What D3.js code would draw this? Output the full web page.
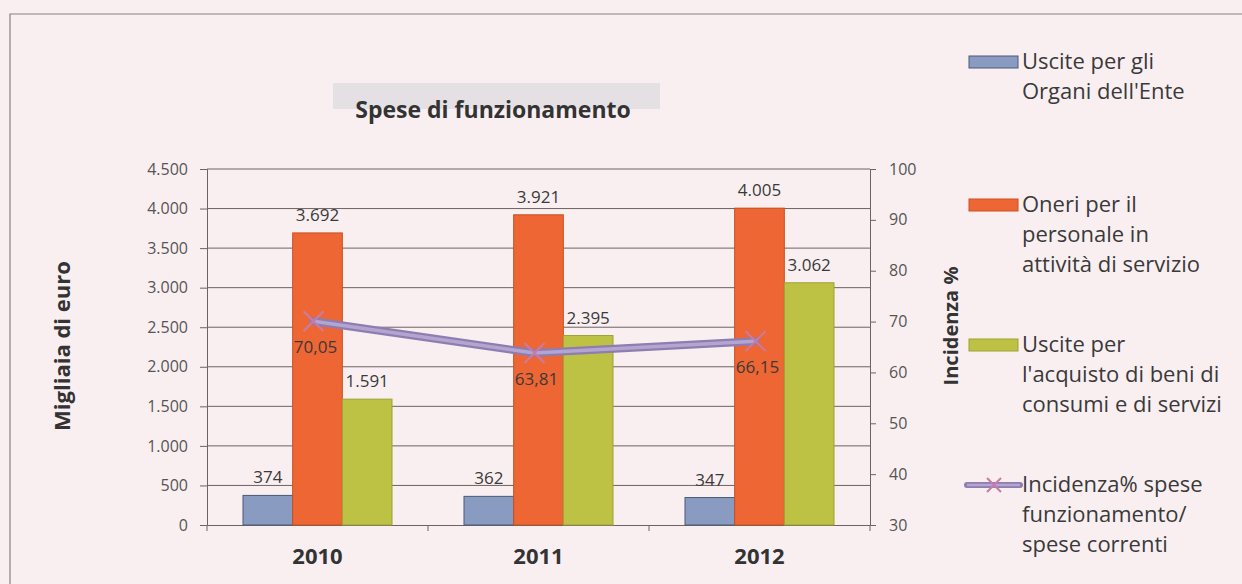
<!DOCTYPE html>
<html>
<head>
<meta charset="utf-8">
<script src="https://cdn.jsdelivr.net/npm/d3@7"></script>
<style>
  body { margin: 0; background: #f9eff1; }
  svg { display: block; font-family: "Open Sans", sans-serif; }
</style>
</head>
<body>
<svg id="chart" width="1242" height="584"></svg>
<script>
// --- data ---
const years = ["2010", "2011", "2012"];
const organi = [374, 362, 347];
const personale = [3692, 3921, 4005];
const beni = [1591, 2395, 3062];
const incidenza = [70.05, 63.81, 66.15];
const leftTicks = [0, 500, 1000, 1500, 2000, 2500, 3000, 3500, 4000, 4500];
const rightTicks = [30, 40, 50, 60, 70, 80, 90, 100];
const legendLines = [
  ["Uscite per gli", "Organi dell'Ente"],
  ["Oneri per il", "personale in", "attività di servizio"],
  ["Uscite per", "l'acquisto di beni di", "consumi e di servizi"],
  ["Incidenza% spese", "funzionamento/", "spese correnti"]
];

const colors = ["#8a9bc2", "#ee6634", "#bec244"];
const strokes = ["#4a5978", "#c9511f", "#9ea235"];
const axisCol = "#6e6262";
const itFmt = v => d3.format(",")(v).replace(/,/g, ".");
const pctFmt = v => d3.format(".2f")(v).replace(".", ",");

const svg = d3.select("#chart");
const plot = { left: 207, right: 870, top: 169, bottom: 525 };

// frame
svg.append("path").attr("d", `M10,584 V14 H1242`).attr("fill", "none").attr("stroke", "#8a7f80").attr("stroke-width", 1.2);

// title (with the grey scan box behind)
svg.append("rect").attr("x", 333).attr("y", 83).attr("width", 327).attr("height", 26).attr("fill", "#e4e0e4");
svg.append("text").attr("x", 493).attr("y", 118).attr("text-anchor", "middle")
  .attr("font-size", 23).attr("font-weight", "bold").attr("fill", "#333").text("Spese di funzionamento");

const x0 = d3.scaleBand().domain(years).range([plot.left, plot.right]);
const groupW = 149;
const x1 = d3.scaleBand().domain([0, 1, 2]).range([0, groupW]);
const yL = d3.scaleLinear().domain([0, 4500]).range([plot.bottom, plot.top]);
const yR = d3.scaleLinear().domain([30, 100]).range([plot.bottom, plot.top]);

// grid
svg.append("g").selectAll("line").data(leftTicks.slice(1)).join("line")
  .attr("x1", plot.left).attr("x2", plot.right)
  .attr("y1", d => yL(d)).attr("y2", d => yL(d))
  .attr("stroke", axisCol).attr("stroke-width", 1);

// left axis
const axL = svg.append("g").attr("transform", `translate(${plot.left},0)`)
  .call(d3.axisLeft(yL).tickValues(leftTicks).tickFormat(itFmt).tickSize(7).tickPadding(12));
axL.select(".domain").attr("stroke", axisCol);
axL.selectAll(".tick line").attr("stroke", axisCol);
axL.selectAll("text").attr("font-size", 16).attr("fill", "#555").attr("font-family", "Open Sans, sans-serif");

// right axis
const axR = svg.append("g").attr("transform", `translate(${plot.right},0)`)
  .call(d3.axisRight(yR).tickValues(rightTicks).tickSize(6).tickPadding(13));
axR.select(".domain").attr("stroke", axisCol);
axR.selectAll(".tick line").attr("stroke", axisCol);
axR.selectAll("text").attr("font-size", 16).attr("fill", "#555").attr("font-family", "Open Sans, sans-serif");

// bottom axis
const axB = svg.append("g").attr("transform", `translate(0,${plot.bottom})`)
  .call(d3.axisBottom(x0).tickSize(0).tickPadding(23));
axB.select(".domain").attr("stroke", axisCol);
axB.selectAll("text").attr("font-size", 22).attr("font-weight", "bold").attr("fill", "#333").attr("font-family", "Open Sans, sans-serif");
svg.append("g").selectAll("line").data(years.slice(1)).join("line")
  .attr("x1", d => x0(d)).attr("x2", d => x0(d))
  .attr("y1", plot.bottom).attr("y2", plot.bottom + 6).attr("stroke", axisCol);
svg.append("line").attr("x1", plot.right).attr("x2", plot.right).attr("y1", plot.bottom).attr("y2", plot.bottom + 6).attr("stroke", axisCol);
svg.append("line").attr("x1", plot.left).attr("x2", plot.left).attr("y1", plot.bottom).attr("y2", plot.bottom + 6).attr("stroke", axisCol);

// bars
const series = [organi, personale, beni];
const rows = [];
series.forEach((vals, s) => vals.forEach((v, i) => rows.push({ s, year: years[i], v })));
const off = (x0.bandwidth() - groupW) / 2;
svg.append("g").selectAll("rect").data(rows).join("rect")
  .attr("x", d => x0(d.year) + off + x1(d.s))
  .attr("y", d => yL(d.v))
  .attr("width", x1.bandwidth())
  .attr("height", d => yL(0) - yL(d.v))
  .attr("fill", d => colors[d.s])
  .attr("stroke", d => strokes[d.s]).attr("stroke-width", 1);

svg.append("g").selectAll("text").data(rows).join("text")
  .attr("x", d => x0(d.year) + off + x1(d.s) + x1.bandwidth() / 2)
  .attr("y", d => yL(d.v) - 12)
  .attr("text-anchor", "middle").attr("font-size", 17).attr("fill", "#3a3a3a")
  .text(d => itFmt(d.v));

// line series
const pts = incidenza.map((v, i) => ({ x: x0(years[i]) + x0.bandwidth() / 2 - 4, y: yR(v), v }));
const line = d3.line().x(d => d.x).y(d => d.y);
svg.append("path").datum(pts).attr("d", line).attr("fill", "none")
  .attr("stroke", "#8e7db0").attr("stroke-width", 8).attr("stroke-linecap", "round");
svg.append("path").datum(pts).attr("d", line).attr("fill", "none")
  .attr("stroke", "#b4a4d0").attr("stroke-width", 3.5);
svg.append("g").selectAll("path").data(pts).join("path")
  .attr("d", d => `M${d.x - 10},${d.y - 10}L${d.x + 10},${d.y + 10}M${d.x - 10},${d.y + 10}L${d.x + 10},${d.y - 10}`)
  .attr("stroke", "#c67ca8").attr("stroke-width", 2);
svg.append("g").selectAll("text").data(pts).join("text")
  .attr("x", d => d.x + 2).attr("y", d => d.y + 32)
  .attr("text-anchor", "middle").attr("font-size", 17).attr("fill", "#3a3a3a")
  .text(d => pctFmt(d.v));

// axis titles
svg.append("text").attr("transform", "translate(70,346) rotate(-90)").attr("text-anchor", "middle")
  .attr("font-size", 22).attr("font-weight", "bold").attr("fill", "#333").text("Migliaia di euro");
svg.append("text").attr("transform", "translate(958,326) rotate(-90)").attr("text-anchor", "middle")
  .attr("font-size", 20).attr("font-weight", "bold").attr("fill", "#333").text("Incidenza %");

// legend
const legY = [62, 205, 345, 485];
const leg = svg.append("g");
legendLines.forEach((lines, i) => {
  const g = leg.append("g").attr("transform", `translate(0,${legY[i]})`);
  if (i < 3) {
    g.append("rect").attr("x", 969).attr("y", -6).attr("width", 49).attr("height", 12)
      .attr("fill", colors[i]).attr("stroke", strokes[i]);
  } else {
    g.append("line").attr("x1", 967).attr("x2", 1020).attr("stroke", "#8e7db0").attr("stroke-width", 6).attr("stroke-linecap", "round");
    g.append("line").attr("x1", 967).attr("x2", 1020).attr("stroke", "#b4a4d0").attr("stroke-width", 2.5);
    g.append("path").attr("d", "M987,-7L1001,7M987,7L1001,-7").attr("stroke", "#c67ca8").attr("stroke-width", 2);
  }
  g.selectAll("text").data(lines).join("text")
    .attr("x", 1022).attr("y", (d, k) => k * 30 + 7)
    .attr("font-size", 22).attr("fill", "#3a3a3a").text(d => d);
});
</script>
</body>
</html>
